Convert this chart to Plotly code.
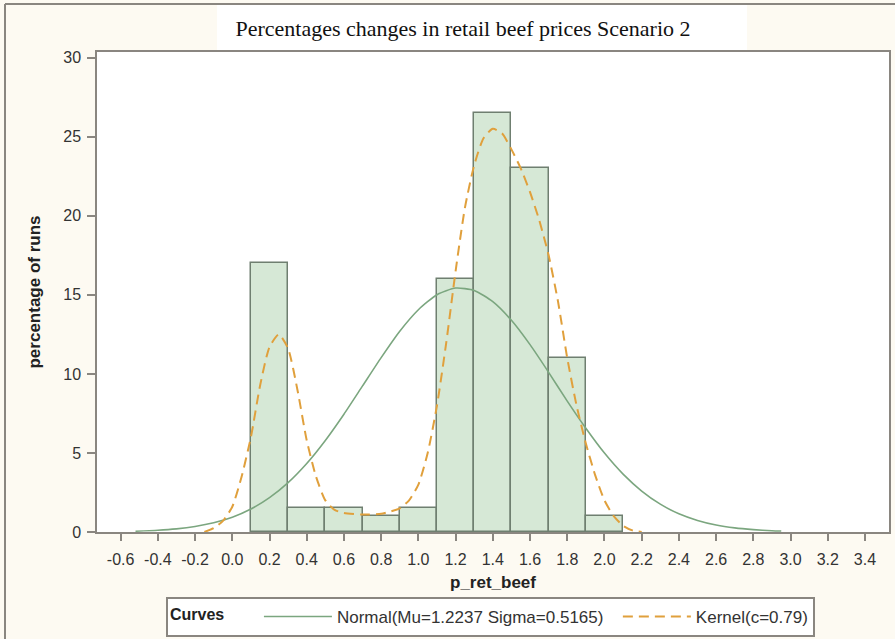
import plotly.graph_objects as go

# ---- data ----
bin_centers = [0.2, 0.4, 0.6, 0.8, 1.0, 1.2, 1.4, 1.6, 1.8, 2.0]
pct_runs = [17.0, 1.5, 1.5, 1.0, 1.5, 16.0, 26.5, 23.0, 11.0, 1.0]

normal_x = [-0.52, -0.4, -0.3, -0.2, -0.1, 0.0, 0.1, 0.2, 0.3, 0.4, 0.5, 0.6, 0.7, 0.8,
            0.9, 1.0, 1.1, 1.2, 1.3, 1.4, 1.5, 1.6, 1.7, 1.8, 1.9, 2.0, 2.1, 2.2,
            2.3, 2.4, 2.5, 2.6, 2.7, 2.8, 2.9, 2.95]
normal_y = [0.05, 0.11, 0.20, 0.35, 0.58, 0.93, 1.45, 2.17, 3.12, 4.33, 5.79, 7.45, 9.24, 11.03,
            12.70, 14.06, 15.01, 15.43, 15.28, 14.57, 13.39, 11.85, 10.10, 8.28, 6.56, 4.99, 3.66, 2.59,
            1.76, 1.15, 0.73, 0.44, 0.26, 0.15, 0.08, 0.06]

kernel_x = [-0.15, -0.1, -0.05, 0.0, 0.05, 0.1, 0.15, 0.2, 0.25, 0.3, 0.35, 0.4, 0.45, 0.5,
            0.55, 0.6, 0.7, 0.8, 0.85, 0.9, 0.95, 1.0, 1.05, 1.1, 1.15, 1.2, 1.25, 1.3,
            1.35, 1.4, 1.45, 1.5, 1.55, 1.6, 1.65, 1.7, 1.75, 1.8, 1.85, 1.9, 1.95, 2.0,
            2.05, 2.1, 2.15, 2.2]
kernel_y = [0.0, 0.25, 0.7, 1.6, 3.5, 6.0, 9.3, 11.7, 12.5, 11.6, 9.0, 5.8, 3.5, 2.0,
            1.4, 1.2, 1.1, 1.15, 1.3, 1.5, 2.0, 3.0, 5.0, 8.0, 12.0, 16.5, 20.5, 23.2,
            24.9, 25.5, 25.2, 24.2, 23.0, 21.5, 19.7, 17.5, 14.6, 11.0, 8.0, 5.6, 3.6, 2.0,
            1.0, 0.4, 0.1, 0.0]

x_ticks = [round(-0.6 + 0.2 * i, 1) for i in range(21)]
x_tick_labels = [f"{v:.1f}" for v in x_ticks]
y_ticks = [0, 5, 10, 15, 20, 25, 30]

title_text = "Percentages changes in retail beef prices Scenario 2"
normal_name = "Normal(Mu=1.2237 Sigma=0.5165)"
kernel_name = "Kernel(c=0.79)"

# ---- styles ----
FRAME = "#8A8680"
BG = "#FDFAF2"
TXT = "#333333"
FONT = "Liberation Sans, Arial, sans-serif"

fig = go.Figure()
fig.add_trace(go.Bar(
    x=bin_centers, y=pct_runs, width=0.2,
    marker=dict(color="#D6E8D6", line=dict(color="#6F7F70", width=1.5)),
    showlegend=False, hoverinfo="x+y"))
fig.add_trace(go.Scatter(
    x=normal_x, y=normal_y, mode="lines", name=normal_name + "  ",
    line=dict(color="#7BA67F", width=1.6, shape="spline", smoothing=0.6)))
fig.add_trace(go.Scatter(
    x=kernel_x, y=kernel_y, mode="lines", name=kernel_name,
    line=dict(color="#E0A03C", width=2, dash="10px,6px", shape="spline", smoothing=0.6)))

L, R, T, B = 97, 6, 52, 107
W, H = 895, 639
pw, ph = W - L - R, H - T - B

def px(xp):
    return (xp - L) / pw

def py(yp):
    return (H - B - yp) / ph

shapes = [
    # white title panel
    dict(type="rect", xref="paper", yref="paper", x0=px(217), x1=px(747), y0=1.0, y1=py(5),
         fillcolor="white", line=dict(width=0), layer="below"),
    # outer frame (top and left)
    dict(type="line", xref="paper", yref="paper", x0=px(5), x1=px(900), y0=py(4), y1=py(4),
         line=dict(color=FRAME, width=2)),
    dict(type="line", xref="paper", yref="paper", x0=px(5), x1=px(5), y0=py(4), y1=py(645),
         line=dict(color=FRAME, width=2)),
]

fig.update_layout(
    width=W, height=H,
    margin=dict(l=L, r=R, t=T, b=B, pad=0, autoexpand=False),
    paper_bgcolor=BG, plot_bgcolor="white",
    font=dict(family=FONT, color=TXT, size=16),
    bargap=0,
    shapes=shapes,
    title=dict(text=title_text, x=px(463), xref="paper", xanchor="center",
               y=1 - 28 / H, yref="container", yanchor="middle",
               font=dict(family="Liberation Serif, Times New Roman, serif", size=22, color="#111111")),
    xaxis=dict(range=[-0.727, 3.529], tickmode="array", tickvals=x_ticks, ticktext=x_tick_labels,
               ticks="outside", ticklen=7, tickwidth=1.5, tickcolor=FRAME,
               showline=True, linecolor=FRAME, linewidth=1.5, mirror=True,
               showgrid=False, zeroline=False, ticklabelstandoff=5,
               tickfont=dict(size=16, color=TXT),
               title=dict(text="<b>p_ret_beef</b>", font=dict(size=17, color="#222222"), standoff=9)),
    yaxis=dict(range=[0, 30.36], tickmode="array", tickvals=y_ticks,
               ticks="outside", ticklen=8, tickwidth=1.5, tickcolor=FRAME,
               showline=True, linecolor=FRAME, linewidth=1.5, mirror=True,
               showgrid=False, zeroline=False, ticklabelstandoff=3,
               tickfont=dict(size=16, color=TXT),
               title=dict(text="<b>percentage of runs</b>", font=dict(size=17, color="#222222"), standoff=18)),
    legend=dict(orientation="h", x=px(166), y=py(617), xanchor="left", yanchor="middle",
                bgcolor="white", bordercolor=FRAME, borderwidth=2,
                title=dict(text="<b>Curves</b>      ", font=dict(size=16, color="#222222")),
                font=dict(size=17, color=TXT), itemwidth=68, tracegroupgap=0),
)

fig.write_html("out.html", config={"displayModeBar": False},
               post_script="document.body.style.margin='0';document.body.style.background='%s';" % BG)
